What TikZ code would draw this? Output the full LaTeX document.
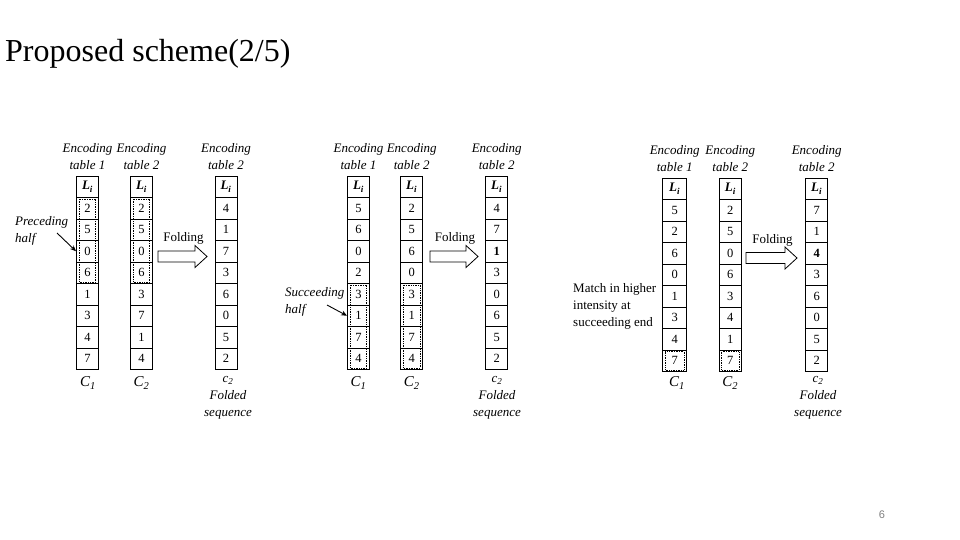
\documentclass[tikz,border=0pt]{standalone}
\usepackage{fontspec}
\setmainfont{Liberation Serif}
\newfontfamily\sansf{Liberation Sans}
\usetikzlibrary{calc,arrows.meta}
\newcommand\Li{\textbf{\textit{L}}\textsubscript{\textbf{\textit{i}}}}
\newcommand\tabcol[6]{% name, xcenter, top, width, header, list
  \node[lab] (#1-h) at (#2,#3-19.5) {#5};
  \node[cell, minimum width=#4pt, font=\fontsize{13}{13}\selectfont] (#1-0) at (#2,#3+10.75) {\Li};
  \foreach \v [count=\k] in {#6} {
    \node[cell, minimum width=#4pt] (#1-\k) at (#2,#3+10.75+\k*21.5) {\v};
  }
}
\newcommand\dotbox[3]{% column, first row, last row
  \draw[dotb] ([xshift=3.2pt,yshift=-2pt]#1-#2.north west) rectangle ([xshift=-3.2pt,yshift=2pt]#1-#3.south east);
}
\newcommand\foldarrow[4]{% name, x0, x1, y
  \draw[fold] (#2,#4-5.5) -- (#3-12,#4-5.5) -- (#3-12,#4-11) -- (#3,#4) -- (#3-12,#4+11) -- (#3-12,#4+5.5) -- (#2,#4+5.5) -- cycle;
  \node[txt, anchor=base] (#1) at ({(#2+#3)/2+1},#4-15) {Folding};
}
\begin{document}
\begin{tikzpicture}[x=1pt,y=-1pt,
  cell/.style={draw, line width=0.9pt, minimum height=21.5pt, inner sep=0pt, font=\fontsize{12.5}{12.5}\selectfont},
  lab/.style={font=\fontsize{13}{17}\selectfont\itshape, align=center, inner sep=0pt},
  clab/.style={font=\fontsize{15}{17}\selectfont\itshape, inner sep=0pt},
  txt/.style={font=\fontsize{13}{17}\selectfont, inner sep=0pt},
  dotb/.style={draw, densely dotted, line width=0.7pt},
  fold/.style={draw, line width=0.8pt, fill=white},
  ptr/.style={-{Stealth[length=6pt,width=5pt]}, line width=0.9pt}]
\useasboundingbox (0,0) rectangle (960,540);
\node[anchor=base west, font=\fontsize{32}{34}\selectfont, inner sep=0pt] (title) at (5,62) {Proposed scheme(2/5)};

% Panel 1
\tabcol{pa}{87.5}{176}{22}{Encoding\\table 1}{2,5,0,6,1,3,4,7}
\tabcol{pb}{141.5}{176}{22}{Encoding\\table 2}{2,5,0,6,3,7,1,4}
\tabcol{pc}{226}{176}{22}{Encoding\\table 2}{4,1,7,3,6,0,5,2}
\dotbox{pa}{1}{4}
\dotbox{pb}{1}{4}
\foldarrow{fa}{158}{207}{256.5}
\node[lab, align=left, anchor=west] (pre) at (15,231) {Preceding\\half};
\draw[ptr] (57,233) -- (pa-3.west);
\node[clab] (pac) at (88,383) {\textit{C}\textsubscript{1}};
\node[clab] (pbc) at (141.5,383) {\textit{C}\textsubscript{2}};
\node[lab] (pcc) at (228,398) {\textit{c}\textsubscript{2}\\Folded\\sequence};

% Panel 2
\tabcol{qa}{358.5}{176}{22}{Encoding\\table 1}{5,6,0,2,3,1,7,4}
\tabcol{qb}{411.7}{176}{22}{Encoding\\table 2}{2,5,6,0,3,1,7,4}
\tabcol{qc}{496.7}{176}{22}{Encoding\\table 2}{4,7,\textbf{1},3,0,6,5,2}
\dotbox{qa}{5}{8}
\dotbox{qb}{5}{8}
\foldarrow{fb}{430}{478}{256.5}
\node[lab, align=left, anchor=west] (suc) at (285,302) {Succeeding\\half};
\draw[ptr] (327,305) -- (qa-6.west);
\node[clab] (qac) at (358.5,383) {\textit{C}\textsubscript{1}};
\node[clab] (qbc) at (411.7,383) {\textit{C}\textsubscript{2}};
\node[lab] (qcc) at (497,398) {\textit{c}\textsubscript{2}\\Folded\\sequence};

% Panel 3
\tabcol{ra}{674.7}{178}{24}{Encoding\\table 1}{5,2,6,0,1,3,4,7}
\tabcol{rb}{730.3}{178}{22.7}{Encoding\\table 2}{2,5,0,6,3,4,1,7}
\tabcol{rc}{816.7}{178}{22}{Encoding\\table 2}{7,1,\textbf{4},3,6,0,5,2}
\dotbox{ra}{8}{8}
\dotbox{rb}{8}{8}
\foldarrow{fc}{746}{797}{258}
\node[txt, align=left, anchor=west] (match) at (573,306) {Match in higher\\intensity at\\succeeding end};
\node[clab] (rac) at (677,383) {\textit{C}\textsubscript{1}};
\node[clab] (rbc) at (730.3,383) {\textit{C}\textsubscript{2}};
\node[lab] (rcc) at (818,398) {\textit{c}\textsubscript{2}\\Folded\\sequence};

\node[font=\sansf\fontsize{11}{11}\selectfont, text=gray] (pg) at (882,515) {6};
\end{tikzpicture}
\end{document}
